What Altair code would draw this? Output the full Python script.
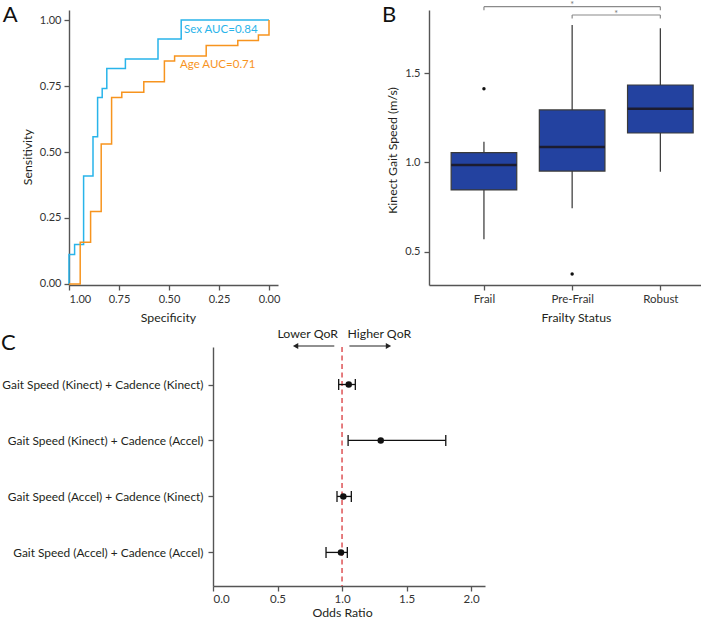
import json
import altair as alt
import pandas as pd

FONT = "Lato"
TXT = "#231F20"
AX = "#555555"
LAB = "#333333"

# ---------------- Panel A : ROC curves ----------------
sex_spec = [1.0, 1.0, 0.972, 0.927, 0.880, 0.857, 0.834, 0.811, 0.718, 0.555, 0.439, 0.0]
sex_sens = [0.0, 0.112, 0.150, 0.409, 0.558, 0.706, 0.741, 0.816, 0.852, 0.928, 1.0, 1.0]
age_spec = [1.0, 0.944, 0.892, 0.839, 0.787, 0.736, 0.626, 0.523, 0.472, 0.314, 0.156, 0.053, 0.0]
age_sens = [0.0, 0.158, 0.275, 0.530, 0.706, 0.726, 0.766, 0.845, 0.864, 0.903, 0.922, 0.943, 1.0]
roc_groups = ["Sex", "Age"]
roc_colors = ["#29B4EA", "#F7941E"]
auc_text = ["Sex AUC=0.84", "Age AUC=0.71"]
auc_spec = [0.425, 0.445]
auc_sens = [0.952, 0.817]
roc_ticks = [1.0, 0.75, 0.5, 0.25, 0.0]

# ---------------- Panel B : gait speed boxplots ----------------
frailty = ["Frail", "Pre-Frail", "Robust"]
q1 = [0.845, 0.951, 1.164]
med = [0.985, 1.086, 1.300]
q3 = [1.054, 1.293, 1.433]
wlo = [0.569, 0.742, 0.947]
whi = [1.115, 1.769, 1.751]
out_group = ["Frail", "Pre-Frail"]
out_value = [1.412, 0.374]
sig_from = ["Frail", "Pre-Frail"]
sig_to = ["Robust", "Robust"]
sig_label = ["*", "*"]
sig_bar = [1.8715, 1.825]
sig_drop = [1.851, 1.805]
sig_star = [1.8625, 1.8155]
speed_ticks = [0.5, 1.0, 1.5]

# ---------------- Panel C : odds ratios ----------------
models = [
    "Gait Speed (Kinect) + Cadence (Kinect)",
    "Gait Speed (Kinect) + Cadence (Accel)",
    "Gait Speed (Accel) + Cadence (Kinect)",
    "Gait Speed (Accel) + Cadence (Accel)",
]
odds_ratio = [1.052, 1.300, 1.010, 0.992]
ci_low = [0.974, 1.047, 0.961, 0.876]
ci_high = [1.103, 1.804, 1.072, 1.041]
ref_or = 1.0
qor_text = ["Lower QoR", "Higher QoR"]
qor_text_or = [0.734, 1.289]
arrow_from = [0.94, 1.057]
arrow_to = [0.64, 1.36]
arrow_head = ["triangle-left", "triangle-right"]
or_ticks = [0.0, 0.5, 1.0, 1.5, 2.0]
ARROW_ROW = 0.312
TEXT_ROW = 0.091

# panel letters, placed in each panel's own data units
letter_A = (1.3315, 0.9936)
letter_B = (-0.156, 1.7875)
letter_C = (-1.6434, 0.38)


def letter_mark(txt, xf, yf, xv, yv):
    df = pd.DataFrame({"lx": [xv], "ly": [yv], "t": [txt]})
    return alt.Chart(df).mark_text(align="left", baseline="alphabetic", font=FONT, fontSize=22,
                                   color="#111111").encode(x=xf("lx"), y=yf("ly"), text="t:N")


# ================= A =================
roc_df = pd.DataFrame({
    "spec": sex_spec + age_spec,
    "sens": sex_sens + age_sens,
    "group": [roc_groups[0]] * len(sex_spec) + [roc_groups[1]] * len(age_spec),
    "order": list(range(len(sex_spec))) + list(range(len(age_spec))),
})
auc_df = pd.DataFrame({"spec": auc_spec, "sens": auc_sens, "group": roc_groups, "label": auc_text})

xA_scale = alt.Scale(domain=[-0.045, 1.0], reverse=True, nice=False, zero=False)
xA_axis = alt.Axis(values=roc_ticks, format=".2f", title="Specificity", titleX=99, titleY=36,
                   titleBaseline="alphabetic", labelPadding=3)
yA_scale = alt.Scale(domain=[-0.0038, 1.0379], nice=False, zero=False)
yA_axis = alt.Axis(values=roc_ticks, format=".2f", title="Sensitivity", titleX=-38, titleY=146.7,
                   titleBaseline="alphabetic", labelPadding=3)


def xA(f):
    return alt.X(f, type="quantitative", scale=xA_scale, axis=xA_axis)


def yA(f):
    return alt.Y(f, type="quantitative", scale=yA_scale, axis=yA_axis)


colA = alt.Color("group:N", scale=alt.Scale(domain=roc_groups, range=roc_colors), legend=None)

roc_lines = alt.Chart(roc_df).mark_line(interpolate="step-after", strokeWidth=1.5).encode(
    x=xA("spec"), y=yA("sens"), color=colA, order="order:Q")
roc_text = alt.Chart(auc_df).mark_text(align="left", baseline="alphabetic", font=FONT, fontSize=11.5).encode(
    x=xA("spec"), y=yA("sens"), color=colA, text="label:N")
A = alt.layer(roc_lines, roc_text, letter_mark("A", xA, yA, *letter_A)).properties(width=209, height=275)

# ================= B =================
box_df = pd.DataFrame({"cat": frailty, "pos": [i + 1 for i in range(len(frailty))],
                       "q1": q1, "med": med, "q3": q3, "wlo": wlo, "whi": whi})
out_df = pd.DataFrame({"pos": [frailty.index(g) + 1 for g in out_group], "value": out_value})
sig_df = pd.DataFrame({"p1": [frailty.index(g) + 1 for g in sig_from],
                       "p2": [frailty.index(g) + 1 for g in sig_to],
                       "bar": sig_bar, "drop": sig_drop, "star": sig_star, "label": sig_label})

xB_scale = alt.Scale(domain=[0.377, 3.461], nice=False, zero=False)
xB_axis = alt.Axis(values=[1, 2, 3], labelExpr=f"{json.dumps(frailty)}[datum.value - 1]",
                   title="Frailty Status", titleX=147, titleY=36, titleBaseline="alphabetic",
                   labelPadding=3, labelFontSize=11.5)
yB_scale = alt.Scale(domain=[0.3126, 1.853], nice=False, zero=False)
yB_axis = alt.Axis(values=speed_ticks, format=".1f", title="Kinect Gait Speed (m/s)", titleX=-33,
                   titleY=140, titleBaseline="alphabetic", labelPadding=4)


def xB(f):
    return alt.X(f, type="quantitative", scale=xB_scale, axis=xB_axis)


def yB(f):
    return alt.Y(f, type="quantitative", scale=yB_scale, axis=yB_axis)


boxbase = alt.Chart(box_df).transform_calculate(lo="datum.pos - 0.372", hi="datum.pos + 0.372")
w_low = boxbase.mark_rule(color="#333333", strokeWidth=1.2).encode(x=xB("pos"), y=yB("wlo"), y2="q1")
w_high = boxbase.mark_rule(color="#333333", strokeWidth=1.2).encode(x=xB("pos"), y=yB("q3"), y2="whi")
boxes = boxbase.mark_rect(fill="#2342A0", stroke="#3a3a3a", strokeWidth=1.2).encode(
    x=xB("lo"), x2="hi", y=yB("q1"), y2="q3")
medians = boxbase.mark_rule(color="#1c1c30", strokeWidth=2.6).encode(x=xB("lo"), x2="hi", y=yB("med"))
outs = alt.Chart(out_df).mark_circle(size=12, color="#111111", opacity=1).encode(x=xB("pos"), y=yB("value"))
sigbase = alt.Chart(sig_df)
sig_h = sigbase.mark_rule(color="#8a8a8a", strokeWidth=1.2).encode(x=xB("p1"), x2="p2", y=yB("bar"))
sig_l = sigbase.mark_rule(color="#8a8a8a", strokeWidth=1.2).encode(x=xB("p1"), y=yB("bar"), y2="drop")
sig_r = sigbase.mark_rule(color="#8a8a8a", strokeWidth=1.2).encode(x=xB("p2"), y=yB("bar"), y2="drop")
sig_t = sigbase.transform_calculate(mid="(datum.p1 + datum.p2) / 2").mark_text(
    font=FONT, fontSize=9, color="#777777", baseline="alphabetic").encode(x=xB("mid"), y=yB("star"), text="label:N")
B = alt.layer(w_low, w_high, boxes, medians, outs, sig_h, sig_l, sig_r, sig_t,
              letter_mark("B", xB, yB, *letter_B)).properties(width=272, height=275)

# ================= C =================
or_df = pd.DataFrame({"model": models, "row": [i + 1 for i in range(len(models))],
                      "or": odds_ratio, "lo": ci_low, "hi": ci_high})
cap_df = pd.DataFrame({"row": [i + 1 for i in range(len(models))] * 2, "v": ci_low + ci_high})
ref_df = pd.DataFrame({"v": [ref_or]})
arr_df = pd.DataFrame({"a0": arrow_from, "a1": arrow_to, "shape": arrow_head,
                       "row": [ARROW_ROW] * 2})
qt_df = pd.DataFrame({"v": qor_text_or, "label": qor_text, "row": [TEXT_ROW] * 2})

xC_scale = alt.Scale(domain=[0.0, 2.108], range=[144, 416], nice=False, zero=False)
xC_axis = alt.Axis(values=or_ticks, format=".1f", title="Odds Ratio", titleX=273, titleY=30.3,
                   titleBaseline="alphabetic", labelPadding=2, labelFontSize=11.5)
yC_scale = alt.Scale(domain=[0.33, 4.6], reverse=True, nice=False, zero=False)
yC_axis = alt.Axis(values=[1, 2, 3, 4], labelExpr=f"{json.dumps(models)}[datum.value - 1]",
                   offset=-144, title=None, labelFontSize=11.9, labelPadding=5, labelColor=TXT,
                   labelLimit=400)


def xC(f):
    return alt.X(f, type="quantitative", scale=xC_scale, axis=xC_axis)


def yC(f):
    return alt.Y(f, type="quantitative", scale=yC_scale, axis=yC_axis)


ref_line = alt.Chart(ref_df).mark_rule(color="#D8393C", strokeDash=[5, 3.5], strokeWidth=1.3).encode(x=xC("v"))
ci = alt.Chart(or_df).mark_rule(color="#111111", strokeWidth=1.3).encode(x=xC("lo"), x2="hi", y=yC("row"))
caps = alt.Chart(cap_df).transform_calculate(r0="datum.row - 0.098", r1="datum.row + 0.098").mark_rule(
    color="#111111", strokeWidth=1.3).encode(x=xC("v"), y=yC("r0"), y2="r1")
pts = alt.Chart(or_df).mark_point(filled=True, shape="circle", size=42, color="#111111", opacity=1).encode(
    x=xC("or"), y=yC("row"))
arr_l = alt.Chart(arr_df).mark_rule(color="#222222", strokeWidth=1.2).encode(x=xC("a0"), x2="a1", y=yC("row"))
arr_h = alt.Chart(arr_df).mark_point(filled=True, size=38, color="#222222", opacity=1).encode(
    x=xC("a1"), y=yC("row"), shape=alt.Shape("shape:N", scale=None))
qt = alt.Chart(qt_df).mark_text(font=FONT, fontSize=12.3, color=TXT, baseline="middle").encode(
    x=xC("v"), y=yC("row"), text="label:N")
C = alt.layer(ref_line, ci, caps, pts, arr_l, arr_h, qt,
              letter_mark("C", xC, yC, *letter_C)).properties(width=209, height=239)

chart = alt.ConcatChart(
    concat=[A, B, C], columns=2, align="each", bounds="flush",
    spacing={"row": 62, "column": 151},
    padding={"left": 0, "top": 1, "right": 0, "bottom": 0},
).configure(font=FONT).configure_view(stroke=None).configure_axis(
    domainColor=AX, domainWidth=1.4, tickColor=AX, tickWidth=1.3, tickSize=5,
    labelColor=LAB, labelFont=FONT, labelFontSize=11, titleFont=FONT, titleFontSize=12.3,
    titleFontWeight="normal", titleColor=TXT, grid=False,
)

chart.save("out.html", embed_options={"renderer": "svg", "actions": False})
